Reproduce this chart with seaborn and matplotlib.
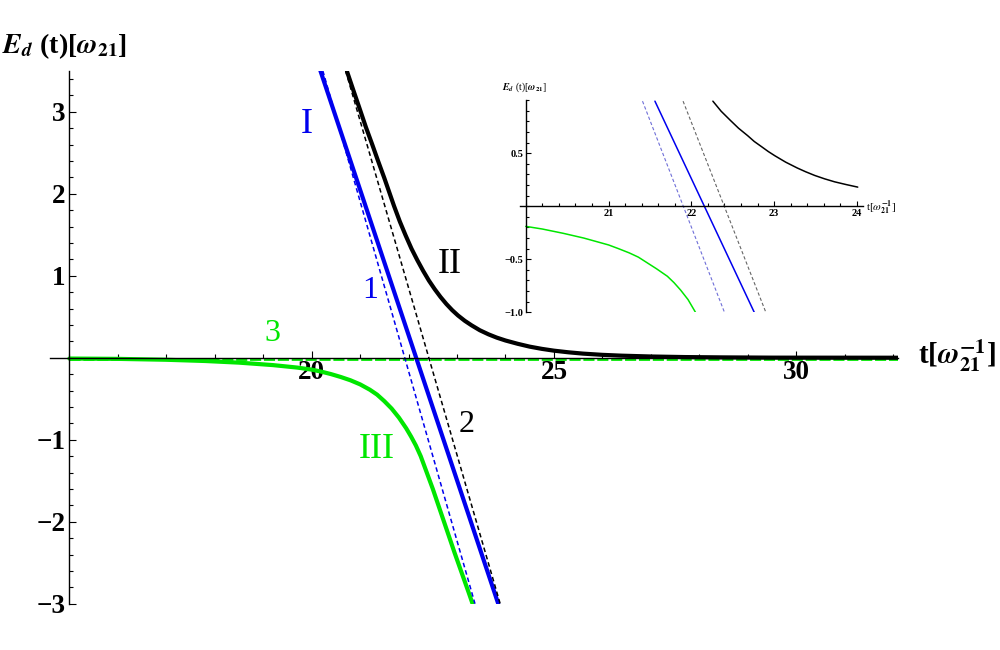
import matplotlib
matplotlib.use("Agg")
import matplotlib.pyplot as plt
import seaborn as sns
from matplotlib.ticker import MultipleLocator

# ---- main panel, values ----
t_blue = [20.18, 23.85]
e_blue = [3.5, -3.0]
t_blue_dash = [20.23, 23.37]
e_blue_dash = [3.5, -3.0]
t_black_dash = [20.70, 23.89]
e_black_dash = [3.5, -3.0]

t_black = [20.73, 20.85, 21.0, 21.12, 21.25, 21.37, 21.5, 21.6, 21.7, 21.82, 21.94,
           22.06, 22.18, 22.3, 22.42, 22.54, 22.66, 22.78, 22.9, 23.02, 23.16, 23.3,
           23.47, 23.65, 23.82, 24.0, 24.25, 24.5, 24.75, 25.0, 25.3, 25.6, 26.0,
           26.4, 27.0, 27.7, 28.5, 29.5, 32.1]
e_black = [3.49, 3.28, 3.02, 2.81, 2.60, 2.40, 2.19, 2.02, 1.85, 1.66, 1.49,
           1.33, 1.19, 1.06, 0.94, 0.835, 0.74, 0.655, 0.58, 0.515, 0.45, 0.395,
           0.335, 0.285, 0.245, 0.21, 0.17, 0.135, 0.108, 0.086, 0.066, 0.05, 0.035,
           0.025, 0.015, 0.008, 0.004, 0.001, 0.0]

t_green = [15.0, 16.0, 17.0, 17.8, 18.5, 19.2, 19.7, 20.0, 20.2, 20.4, 20.6, 20.8,
           21.0, 21.2, 21.35, 21.5, 21.65, 21.8, 21.95, 22.05, 22.15, 22.25, 22.35,
           22.5, 22.65, 22.8, 22.95, 23.1, 23.25, 23.32]
e_green = [-0.01, -0.014, -0.025, -0.04, -0.06, -0.09, -0.12, -0.145, -0.17, -0.20,
           -0.235, -0.275, -0.325, -0.39, -0.45, -0.53, -0.62, -0.73, -0.86, -0.96,
           -1.07, -1.20, -1.36, -1.60, -1.86, -2.12, -2.38, -2.63, -2.88, -3.0]

t_green_dash = [15.0, 32.1]
e_green_dash = [-0.02, -0.02]

# ---- inset ----
t_in_blue = [21.56, 22.76]
e_in_blue = [0.99, -1.0]
t_in_blue_dash = [21.41, 22.40]
e_in_blue_dash = [0.99, -1.0]
t_in_black_dash = [21.90, 22.90]
e_in_black_dash = [0.99, -1.0]
t_in_black = [22.26, 22.36, 22.47, 22.57, 22.68, 22.76, 22.85, 22.93, 23.01, 23.14,
              23.28, 23.38, 23.49, 23.61, 23.73, 23.87, 24.01]
e_in_black = [0.99, 0.895, 0.81, 0.735, 0.665, 0.61, 0.56, 0.515, 0.475, 0.415,
              0.36, 0.325, 0.29, 0.258, 0.23, 0.204, 0.18]
t_in_green = [20.0, 20.2, 20.45, 20.7, 21.0, 21.12, 21.25, 21.36, 21.46, 21.58,
              21.71, 21.79, 21.87, 21.96, 22.05]
e_in_green = [-0.19, -0.215, -0.255, -0.30, -0.365, -0.40, -0.44, -0.48, -0.53,
              -0.59, -0.66, -0.72, -0.79, -0.88, -1.0]

BLUE = '#0000ee'
GREEN = '#00e600'

sns.set_style('white')
plt.rcParams['font.family'] = ['Liberation Serif', 'DejaVu Serif']
plt.rcParams['mathtext.fontset'] = 'stix'
plt.rcParams['axes.unicode_minus'] = True
for k in ['text.color', 'xtick.color', 'ytick.color', 'axes.labelcolor']:
    plt.rcParams[k] = 'black'


def line(ax, t, e, color, lw, ls='-'):
    sns.lineplot(x=t, y=e, ax=ax, color=color, linewidth=lw, linestyle=ls,
                 estimator=None, sort=False, solid_joinstyle='round')


def style_axes(ax, x0, y0, maj, minl):
    for s in ['top', 'right']:
        ax.spines[s].set_visible(False)
    ax.spines['left'].set_position(('data', x0))
    ax.spines['bottom'].set_position(('data', y0))
    for s in ['left', 'bottom']:
        ax.spines[s].set_linewidth(1.0)
        ax.spines[s].set_color('black')
    ax.tick_params(which='both', direction='in', color='black', width=0.8,
                   bottom=True, left=True, top=False, right=False,
                   labelcolor='black')
    ax.tick_params(which='major', length=maj)
    ax.tick_params(which='minor', length=minl)


fig = plt.figure(figsize=(10, 6.5), dpi=100)
ax = fig.add_axes([0.050, 0.0712, 0.848, 0.82])

line(ax, t_green_dash, e_green_dash, GREEN, 2.0, (0, (4, 1)))
line(ax, t_green, e_green, GREEN, 3.0)
line(ax, t_black, e_black, 'black', 3.0)
line(ax, t_blue, e_blue, BLUE, 3.0)
line(ax, t_blue_dash, e_blue_dash, BLUE, 1.1, (0, (3, 2)))
line(ax, t_black_dash, e_black_dash, 'black', 1.1, (0, (3, 2)))

ax.set_xlim(14.6, 32.1)
ax.set_ylim(-3.0, 3.5)
style_axes(ax, 15, 0, 5, 3)
ax.set_xticks([20, 25, 30], labels=['20', '25', '30'], fontsize=19.5, fontweight='bold')
ax.set_yticks([-3, -2, -1, 1, 2, 3], labels=['\u22123', '\u22122', '\u22121', '1', '2', '3'],
              fontsize=19.5, fontweight='bold')
ax.xaxis.set_minor_locator(MultipleLocator(1))
ax.yaxis.set_minor_locator(MultipleLocator(0.2))
ax.tick_params(axis='x', pad=1.5)
ax.tick_params(axis='y', pad=3)
ax.set_xlabel('')
ax.set_ylabel('')

ax.text(19.89, 2.84, 'I', color=BLUE, fontsize=26, ha='center', va='center')
ax.text(21.21, 0.82, '1', color=BLUE, fontsize=23, ha='center', va='center')
ax.text(22.84, 1.14, 'II', color='black', fontsize=26, ha='center', va='center')
ax.text(23.20, -0.82, '2', color='black', fontsize=23, ha='center', va='center')
ax.text(21.34, -1.12, 'III', color=GREEN, fontsize=26, ha='center', va='center')
ax.text(19.20, 0.30, '3', color=GREEN, fontsize=23, ha='center', va='center')

fig.text(0.002, 0.929, r'$\mathbfit{E}_{\mathbfit{d}}$ (t)[$\mathbfit{\omega}_{\mathbf{21}}$]',
         fontsize=20, fontweight='bold', ha='left', va='center')
fig.text(0.918, 0.452, r't[$\mathbfit{\omega}_{\mathbf{21}}^{\mathbf{-1}}$]',
         fontsize=21, fontweight='bold', ha='left', va='center')

# inset
axi = fig.add_axes([0.520, 0.5195, 0.3427, 0.3265])
line(axi, t_in_green, e_in_green, GREEN, 1.1)
line(axi, t_in_black, e_in_black, 'black', 1.1)
line(axi, t_in_blue, e_in_blue, BLUE, 1.1)
line(axi, t_in_blue_dash, e_in_blue_dash, '#6f6fd8', 0.8, (0, (3, 2)))
line(axi, t_in_black_dash, e_in_black_dash, '#666666', 0.8, (0, (3, 2)))
axi.set_xlim(19.93, 24.07)
axi.set_ylim(-1.0, 1.0)
axi.patch.set_alpha(0)
style_axes(axi, 20, 0, 3.5, 2)
axi.set_xticks([21, 22, 23, 24], labels=['21', '22', '23', '24'], fontsize=7.5, fontweight='bold')
axi.set_yticks([-1.0, -0.5, 0.5], labels=['\u22121.0', '\u22120.5', '0.5'], fontsize=7.5,
               fontweight='bold')
axi.xaxis.set_minor_locator(MultipleLocator(0.2))
axi.yaxis.set_minor_locator(MultipleLocator(0.1))
axi.tick_params(axis='x', pad=2)
axi.tick_params(axis='y', pad=2)
axi.set_xlabel('')
axi.set_ylabel('')
fig.text(0.502, 0.866, r'$\mathbfit{E}_{\mathbfit{d}}$ (t)[$\mathbfit{\omega}_{\mathbf{21}}$]',
         fontsize=7, ha='left', va='center')
fig.text(0.866, 0.680, r't[$\mathit{\omega}_{\mathbf{21}}^{\mathbf{-1}}$]',
         fontsize=8, ha='left', va='center')

fig.savefig('out.png', dpi=100)
